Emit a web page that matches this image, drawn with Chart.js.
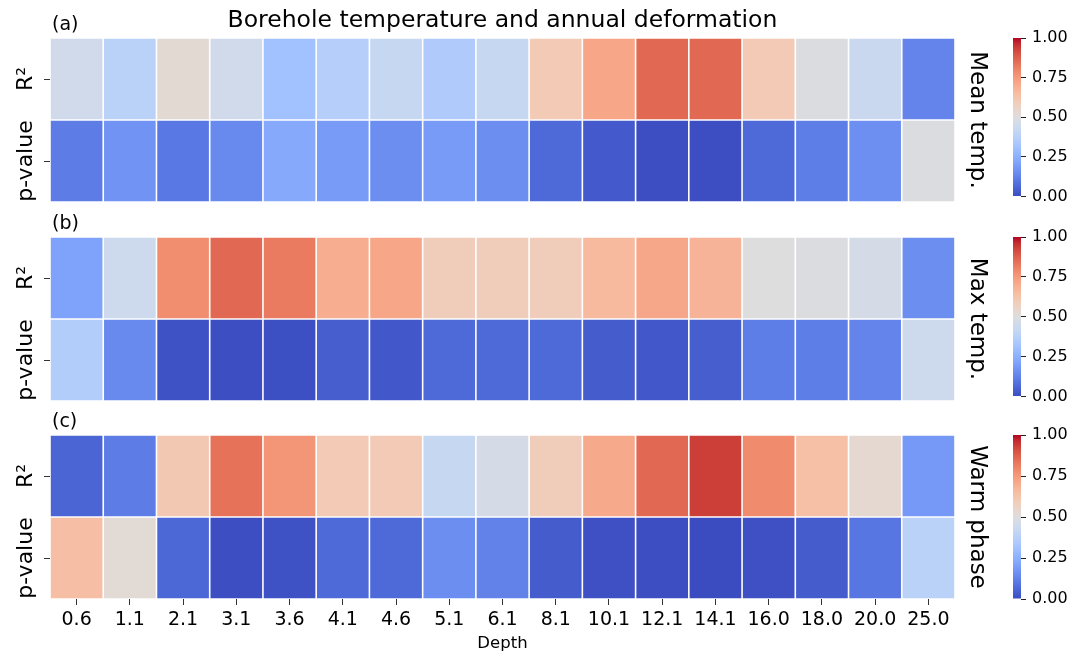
<!DOCTYPE html>
<html lang="en">
<head>
<meta charset="utf-8">
<title>Borehole temperature and annual deformation</title>
<script src="https://cdn.jsdelivr.net/npm/chart.js@4.4.1/dist/chart.umd.min.js"></script>
<style>
  body { margin: 0; background: #fff; }
  #fig { position: relative; width: 1076px; height: 656px; overflow: hidden; }
  #fig canvas { position: absolute; }
</style>
</head>
<body>
<div id="fig">
  <canvas id="heatA" width="1000" height="212" style="left:0;top:0"></canvas>
  <canvas id="heatB" width="1000" height="200" style="left:0;top:212px"></canvas>
  <canvas id="heatC" width="1000" height="244" style="left:0;top:412px"></canvas>
  <canvas id="cbarA" width="76" height="212" style="left:1000px;top:0"></canvas>
  <canvas id="cbarB" width="76" height="200" style="left:1000px;top:212px"></canvas>
  <canvas id="cbarC" width="76" height="244" style="left:1000px;top:412px"></canvas>
</div>
<script>
/*==========================================================

DATOS

==========================================================*/

const depths = ['0.6', '1.1', '2.1', '3.1', '3.6', '4.1', '4.6', '5.1', '6.1',
  '8.1', '10.1', '12.1', '14.1', '16.0', '18.0', '20.0', '25.0'];
const rowLabels = ['R²', 'p-value'];
const panelTags = ['(a)', '(b)', '(c)'];
const panelNames = ['Mean temp.', 'Max temp.', 'Warm phase'];
const figTitle = 'Borehole temperature and annual deformation';
const xTitle = 'Depth';

// (a) mean temperature
const meanR2 = [0.45, 0.38, 0.525, 0.45, 0.31, 0.37, 0.42, 0.35, 0.42,
  0.60, 0.72, 0.86, 0.86, 0.60, 0.49, 0.43, 0.13];
const meanP = [0.11, 0.17, 0.10, 0.145, 0.23, 0.19, 0.155, 0.19, 0.155,
  0.065, 0.03, 0.005, 0.005, 0.065, 0.115, 0.16, 0.49];

// (b) max temperature
const maxR2 = [0.21, 0.44, 0.78, 0.86, 0.82, 0.70, 0.72, 0.59, 0.59,
  0.59, 0.66, 0.715, 0.68, 0.50, 0.49, 0.47, 0.155];
const maxP = [0.36, 0.145, 0.013, 0.005, 0.008, 0.04, 0.025, 0.065, 0.065,
  0.065, 0.035, 0.025, 0.04, 0.115, 0.115, 0.13, 0.44];

// (c) warm phase
const warmR2 = [0.055, 0.11, 0.61, 0.84, 0.76, 0.60, 0.60, 0.42, 0.47,
  0.59, 0.71, 0.86, 0.935, 0.785, 0.64, 0.53, 0.185];
const warmP = [0.645, 0.52, 0.06, 0.005, 0.013, 0.065, 0.065, 0.155, 0.125,
  0.035, 0.01, 0.005, 0.0, 0.01, 0.035, 0.095, 0.38];

const cbarStep = 0.25;

/*==========================================================

MAPA DE COLOR (coolwarm)

==========================================================*/

const COOLWARM = [
  [59, 76, 192], [68, 90, 204], [77, 104, 215], [87, 117, 225], [98, 130, 234],
  [108, 142, 241], [119, 154, 247], [130, 165, 251], [141, 176, 254], [152, 185, 255],
  [163, 194, 255], [174, 201, 253], [184, 208, 249], [194, 213, 244], [204, 217, 238],
  [213, 219, 230], [221, 221, 221], [229, 216, 209], [236, 211, 197], [241, 204, 184],
  [245, 196, 172], [247, 187, 160], [247, 177, 148], [247, 166, 135], [244, 154, 123],
  [241, 141, 111], [236, 127, 99], [229, 112, 88], [222, 96, 77], [213, 80, 66],
  [203, 62, 56], [192, 40, 47], [180, 4, 38]
];

function coolwarm(v) {
  const n = COOLWARM.length - 1;
  const t = Math.min(1, Math.max(0, v)) * n;
  const i = Math.min(Math.floor(t), n - 1);
  const f = t - i;
  const a = COOLWARM[i], b = COOLWARM[i + 1];
  const c = a.map((x, k) => Math.round(x + (b[k] - x) * f));
  return 'rgb(' + c.join(',') + ')';
}

Chart.defaults.font.family = '"DejaVu Sans", sans-serif';
Chart.defaults.color = '#000';

const FONT = '"DejaVu Sans", sans-serif';

/*==========================================================

ETIQUETAS DEL PANEL (titulo, filas, nombre lateral)

==========================================================*/

const panelText = {
  id: 'panelText',
  afterDraw(chart, args, opts) {
    const { ctx, chartArea, scales } = chart;
    ctx.save();
    ctx.fillStyle = '#000';
    ctx.textBaseline = 'alphabetic';

    ctx.font = '19px ' + FONT;
    ctx.textAlign = 'left';
    ctx.fillText(opts.tag, chartArea.left + 2, chartArea.top - 8);

    if (opts.title) {
      ctx.font = '23.5px ' + FONT;
      ctx.textAlign = 'center';
      ctx.fillText(opts.title, (chartArea.left + chartArea.right) / 2, 27);
    }

    ctx.font = '22px ' + FONT;
    ctx.textAlign = 'center';
    rowLabels.forEach((text, i) => {
      const y = scales.y.getPixelForValue(i + 0.5);
      ctx.save();
      ctx.translate(32, y);
      ctx.rotate(-Math.PI / 2);
      ctx.fillText(text, 0, 0);
      ctx.restore();
    });

    ctx.font = '23px ' + FONT;
    ctx.save();
    ctx.translate(chartArea.right + 16, (chartArea.top + chartArea.bottom) / 2);
    ctx.rotate(Math.PI / 2);
    ctx.fillText(opts.name, 0, 0);
    ctx.restore();

    ctx.restore();
  }
};

/*==========================================================

MAPA DE CALOR

==========================================================*/

function rowDataset(label, values, row) {
  return {
    label: label,
    data: values.map((v, i) => ({ x: depths[i], y: [row, row + 1], v: v })),
    backgroundColor: values.map((v) => coolwarm(v)),
    borderColor: '#fff',
    borderWidth: 0.8,
    borderSkipped: false,
    inflateAmount: 0,
    grouped: false,
    barPercentage: 1,
    categoryPercentage: 1
  };
}

function drawHeatmap(id, r2, pv, idx, pad) {
  const last = idx === 2;
  const xScale = last ? {
    ticks: { font: { size: 19 }, color: '#000', padding: 4, maxRotation: 0 },
    grid: { display: true, offset: false, drawOnChartArea: false, tickLength: 6, color: '#333' },
    border: { display: false },
    title: { display: true, text: xTitle, font: { size: 16.5 }, color: '#000', padding: { top: 0, bottom: 2 } },
    afterFit: (s) => { s.height = 57; }
  } : { display: false };

  new Chart(document.getElementById(id), {
    type: 'bar',
    data: {
      labels: depths,
      datasets: [
        rowDataset(rowLabels[0], r2, 0),
        rowDataset(rowLabels[1], pv, 1)
      ]
    },
    options: {
      responsive: false,
      animation: false,
      events: [],
      layout: { padding: { left: 0, right: 45, top: pad.top, bottom: pad.bottom } },
      plugins: {
        legend: { display: false },
        tooltip: { enabled: false },
        panelText: { tag: panelTags[idx], name: panelNames[idx], title: idx === 0 ? figTitle : null }
      },
      scales: {
        x: xScale,
        y: {
          type: 'linear',
          min: 0,
          max: 2,
          reverse: true,
          ticks: { display: false },
          grid: { drawOnChartArea: false, tickLength: 6, color: '#333' },
          border: { display: false },
          afterBuildTicks: (s) => { s.ticks = rowLabels.map((t, i) => ({ value: i + 0.5 })); },
          afterFit: (s) => { s.width = 50; }
        }
      }
    },
    plugins: [panelText]
  });
}

/*==========================================================

BARRA DE COLOR

==========================================================*/

function cbarGradient(chart) {
  const y = chart.scales.y;
  const y0 = y ? y.getPixelForValue(0) : NaN;
  const y1 = y ? y.getPixelForValue(1) : NaN;
  if (!isFinite(y0) || !isFinite(y1)) return coolwarm(0.5);
  const g = chart.ctx.createLinearGradient(0, y0, 0, y1);
  COOLWARM.forEach((c, i) => g.addColorStop(i / (COOLWARM.length - 1), 'rgb(' + c.join(',') + ')'));
  return g;
}

function drawColorbar(id, pad) {
  new Chart(document.getElementById(id), {
    type: 'bar',
    data: {
      labels: [''],
      datasets: [{
        data: [[0, 1]],
        backgroundColor: (c) => cbarGradient(c.chart),
        borderColor: 'rgba(0,0,0,0)',
        borderWidth: 0,
        barPercentage: 1,
        categoryPercentage: 1,
        inflateAmount: 0
      }]
    },
    options: {
      responsive: false,
      animation: false,
      events: [],
      layout: { padding: { left: 13, right: 0, top: pad.top, bottom: pad.bottom } },
      plugins: { legend: { display: false }, tooltip: { enabled: false } },
      scales: {
        x: { display: false },
        y: {
          position: 'right',
          min: 0,
          max: 1,
          ticks: { stepSize: cbarStep, callback: (v) => v.toFixed(2), font: { size: 16 }, color: '#000', padding: 6 },
          grid: { drawOnChartArea: false, tickLength: 5, color: '#222' },
          border: { display: false },
          afterFit: (s) => { s.width = 55; }
        }
      }
    }
  });
}

const pads = [
  { top: 38, bottom: 10 },
  { top: 25, bottom: 11 },
  { top: 23, bottom: 0 }
];

drawHeatmap('heatA', meanR2, meanP, 0, pads[0]);
drawHeatmap('heatB', maxR2, maxP, 1, pads[1]);
drawHeatmap('heatC', warmR2, warmP, 2, pads[2]);

drawColorbar('cbarA', pads[0]);
drawColorbar('cbarB', pads[1]);
drawColorbar('cbarC', { top: 23, bottom: 57 });
</script>
</body>
</html>
